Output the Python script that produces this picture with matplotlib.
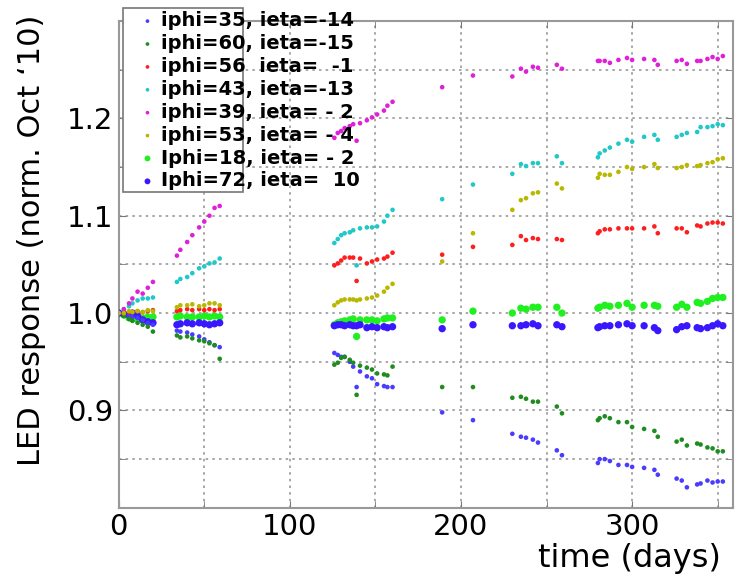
import matplotlib
matplotlib.use('Agg')
import numpy as np
import matplotlib.pyplot as plt
from matplotlib.patches import Rectangle
from matplotlib.ticker import MultipleLocator

# measurement days (since Oct '10)
days = [0, 3, 6, 8, 11, 14, 17, 20,
        34, 36, 40, 43, 47, 50, 53, 56, 59,
        126, 128, 130, 132, 135, 137, 139, 141, 145, 148, 151, 155, 157, 160,
        189, 207,
        230, 235, 238, 242, 245, 256, 259,
        280, 281, 284, 287, 292, 297, 300, 307, 313, 315, 326, 329, 332, 338, 340, 344, 347, 350, 353]

# LED response per channel
resp_35_14 = [1.000, 0.999, 0.997, 0.996, 0.995, 0.993, 0.990, 0.988,
              0.982, 0.981, 0.980, 0.978, 0.976, 0.973, 0.970, 0.967, 0.965,
              0.959, 0.957, 0.955, 0.955, 0.950, 0.945, 0.924, 0.940, 0.935, 0.933, 0.927, 0.925, 0.924, 0.924,
              0.898, 0.890,
              0.876, 0.873, 0.872, 0.870, 0.867, 0.859, 0.854,
              0.846, 0.850, 0.850, 0.848, 0.844, 0.844, 0.842, 0.841, 0.839, 0.834, 0.830, 0.828, 0.821,
              0.824, 0.825, 0.828, 0.826, 0.827, 0.827]
resp_60_15 = [1.000, 0.997, 0.994, 0.992, 0.990, 0.988, 0.986, 0.981,
              0.977, 0.975, 0.976, 0.974, 0.972, 0.971, 0.969, 0.967, 0.953,
              0.947, 0.949, 0.954, 0.955, 0.952, 0.949, 0.916, 0.946, 0.944, 0.942, 0.938, 0.937, 0.936, 0.945,
              0.924, 0.924,
              0.913, 0.914, 0.912, 0.909, 0.909, 0.904, 0.897,
              0.890, 0.892, 0.894, 0.892, 0.888, 0.888, 0.883, 0.881, 0.879, 0.873, 0.868, 0.870, 0.864,
              0.866, 0.865, 0.862, 0.861, 0.858, 0.858]
resp_56_1 = [1.000, 1.000, 1.001, 1.001, 1.002, 1.001, 1.002, 1.003,
             1.002, 1.003, 1.004, 1.003, 1.004, 1.003, 1.004, 1.003, 1.004,
             1.049, 1.051, 1.054, 1.057, 1.057, 1.057, 1.033, 1.056, 1.051, 1.053, 1.055, 1.056, 1.058, 1.062,
             1.060, 1.068,
             1.070, 1.079, 1.075, 1.077, 1.076, 1.076, 1.075,
             1.082, 1.084, 1.086, 1.086, 1.087, 1.087, 1.087, 1.087, 1.089, 1.082, 1.087, 1.087, 1.083,
             1.090, 1.089, 1.092, 1.093, 1.093, 1.092]
resp_43_13 = [1.000, 1.004, 1.007, 1.010, 1.013, 1.015, 1.015, 1.016,
              1.032, 1.035, 1.037, 1.041, 1.046, 1.048, 1.051, 1.052, 1.056,
              1.072, 1.076, 1.080, 1.082, 1.083, 1.085, 1.049, 1.087, 1.088, 1.088, 1.089, 1.094, 1.100, 1.106,
              1.117, 1.132,
              1.143, 1.153, 1.151, 1.154, 1.154, 1.161, 1.154,
              1.160, 1.164, 1.167, 1.170, 1.174, 1.178, 1.176, 1.181, 1.183, 1.178, 1.181, 1.183, 1.185,
              1.186, 1.191, 1.191, 1.192, 1.194, 1.193]
resp_39_2 = [1.000, 1.004, 1.010, 1.015, 1.022, 1.020, 1.026, 1.032,
             1.059, 1.065, 1.073, 1.080, 1.088, 1.094, 1.100, 1.108, 1.110,
             1.180, 1.185, 1.187, 1.190, 1.192, 1.194, 1.177, 1.195, 1.198, 1.201, 1.204, 1.208, 1.213, 1.217,
             1.232, 1.244,
             1.243, 1.251, 1.248, 1.253, 1.252, 1.255, 1.251,
             1.259, 1.259, 1.259, 1.257, 1.260, 1.262, 1.260, 1.261, 1.260, 1.255, 1.259, 1.260, 1.256,
             1.259, 1.259, 1.261, 1.263, 1.261, 1.264]
resp_53_4 = [1.000, 1.000, 1.002, 1.001, 1.002, 1.001, 1.003, 1.002,
             1.006, 1.008, 1.008, 1.009, 1.007, 1.008, 1.010, 1.010, 1.008,
             1.008, 1.011, 1.013, 1.014, 1.014, 1.014, 1.013, 1.014, 1.015, 1.016, 1.018, 1.022, 1.026, 1.030,
             1.053, 1.082,
             1.106, 1.116, 1.118, 1.123, 1.124, 1.133, 1.128,
             1.139, 1.143, 1.142, 1.142, 1.145, 1.150, 1.148, 1.150, 1.153, 1.149, 1.149, 1.150, 1.152,
             1.151, 1.152, 1.154, 1.155, 1.158, 1.159]
resp_18_2 = [1.000, 0.998, 0.995, 0.994, 0.994, 0.995, 0.996, 0.996,
             0.996, 0.997, 0.996, 0.996, 0.996, 0.997, 0.996, 0.997, 0.996,
             0.988, 0.990, 0.991, 0.992, 0.993, 0.994, 0.976, 0.993, 0.993, 0.993, 0.992, 0.994, 0.995, 0.995,
             0.993, 1.002,
             1.000, 1.005, 1.004, 1.006, 1.006, 1.006, 1.000,
             1.005, 1.006, 1.008, 1.007, 1.008, 1.010, 1.006, 1.008, 1.008, 1.007, 1.006, 1.009, 1.006,
             1.011, 1.010, 1.012, 1.015, 1.016, 1.016]
resp_72_10 = [1.000, 0.999, 0.998, 1.000, 0.997, 0.993, 0.991, 0.990,
              0.988, 0.989, 0.990, 0.989, 0.990, 0.989, 0.988, 0.989, 0.990,
              0.987, 0.988, 0.988, 0.987, 0.988, 0.987, 0.987, 0.988, 0.985, 0.986, 0.985, 0.986, 0.985, 0.986,
              0.984, 0.988,
              0.987, 0.987, 0.988, 0.989, 0.987, 0.988, 0.986,
              0.985, 0.986, 0.987, 0.987, 0.988, 0.989, 0.987, 0.987, 0.985, 0.982, 0.983, 0.986, 0.987,
              0.985, 0.984, 0.985, 0.987, 0.989, 0.987]

labels = ['iphi=35, ieta=-14', 'iphi=60, ieta=-15', 'iphi=56  ieta=  -1',
          'iphi=43, ieta=-13', 'iphi=39, ieta= - 2', 'iphi=53, ieta= - 4',
          'Iphi=18, ieta= - 2', 'Iphi=72, ieta=  10']
series = [resp_35_14, resp_60_15, resp_56_1, resp_43_13,
          resp_39_2, resp_53_4, resp_18_2, resp_72_10]
colors = ['#4a3cff', '#1e8c1e', '#ff1e1e', '#20c8c8',
          '#e020d8', '#b8b800', '#20f020', '#3a18ff']
sizes = [11, 11, 11, 11, 11, 11, 28, 28]

fig = plt.figure(figsize=(7.42, 5.83), dpi=100)
ax = fig.add_axes([0.160, 0.129, 0.828, 0.835])

# big markers drawn first so the small ones sit on top
order = [6, 7, 0, 1, 2, 3, 4, 5]
handles = [None] * 8
for i in order:
    handles[i] = ax.scatter(days, series[i], s=sizes[i], color=colors[i],
                            edgecolors='none', label=labels[i], zorder=3)

ax.set_xlim(0, 359)
ax.set_ylim(0.8, 1.3)
ax.xaxis.set_major_locator(MultipleLocator(100))
ax.xaxis.set_minor_locator(MultipleLocator(50))
ax.yaxis.set_minor_locator(MultipleLocator(0.05))
ax.set_yticks([0.9, 1.0, 1.1, 1.2])
ax.set_yticklabels(['0.9', '1.0', '1.1', '1.2'])
ax.grid(True, which='both', color='#999999', linestyle=(0, (1.5, 2.5)), linewidth=1.2)
ax.tick_params(which='both', direction='in', top=True, right=True,
               color='#777777', labelsize=21, pad=4, length=5)
for sp in ax.spines.values():
    sp.set_color('#999999')
    sp.set_linewidth(1.5)

ax.set_ylabel("LED response (norm. Oct \u201810)", fontsize=22)
ax.yaxis.set_label_coords(-0.118, 0.55)
ax.set_xlabel('time (days)', fontsize=23, ha='right')
ax.xaxis.set_label_coords(0.98, -0.072)

leg = ax.legend(handles=handles, labels=labels, loc='upper left',
                bbox_to_anchor=(0.012, 1.04), frameon=False,
                prop={'weight': 'bold', 'size': 14}, labelspacing=0.2,
                handletextpad=0.1, handlelength=1.2, borderpad=0,
                markerscale=0.8)
leg.set_zorder(5)
ax.add_patch(Rectangle((0.0065, 0.649), 0.196, 0.378, transform=ax.transAxes,
                       fill=True, facecolor='white', edgecolor='#777777',
                       linewidth=1.2, clip_on=False, zorder=4))

fig.savefig('out.png', dpi=100)
